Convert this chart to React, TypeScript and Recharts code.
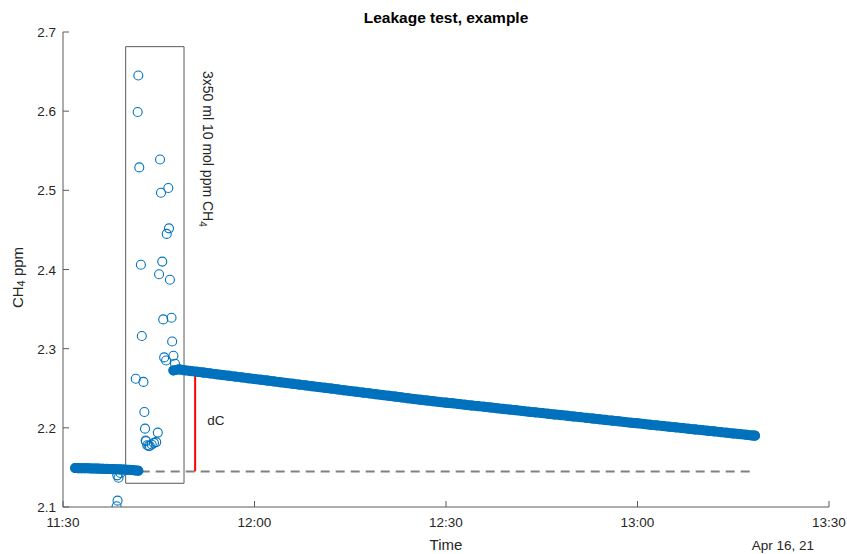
import { ScatterChart, Scatter, XAxis, YAxis, ReferenceArea, ReferenceLine, ReferenceDot } from "recharts"

// time in minutes after 11:30, CH4 in ppm
const baseTimes = [1.9, 2.4, 2.9, 3.4, 3.9, 4.4, 4.9, 5.4, 5.9, 6.4, 6.9, 7.4, 7.9, 8.4, 8.9, 9.4, 9.9, 10.4, 10.9, 11.4, 11.8]
const baseValues = [2.1492, 2.1491, 2.149, 2.149, 2.1489, 2.1487, 2.1486, 2.1485, 2.1484, 2.1482, 2.1481, 2.148, 2.1478, 2.1477, 2.1475, 2.1473, 2.1471, 2.1469, 2.1466, 2.1462, 2.1458]

const injectTimes = [8.4, 8.55, 8.5, 8.7, 9.0, 11.4, 11.7, 11.8, 11.95, 12.2, 12.35, 12.6, 12.75, 12.85, 12.95, 13.0, 13.2, 13.4, 13.6, 13.9, 14.25, 14.6, 14.85, 15.05, 15.2, 15.35, 15.55, 15.7, 15.85, 16.15, 16.25, 16.5, 16.6, 16.75, 17.0, 17.1, 17.3, 17.55]
const injectValues = [2.101, 2.108, 2.14, 2.137, 2.143, 2.262, 2.599, 2.645, 2.529, 2.406, 2.316, 2.258, 2.22, 2.199, 2.184, 2.183, 2.178, 2.177, 2.177, 2.179, 2.181, 2.182, 2.194, 2.394, 2.539, 2.497, 2.41, 2.337, 2.289, 2.285, 2.445, 2.503, 2.452, 2.387, 2.339, 2.309, 2.291, 2.281]

const decayTimes = [17.3, 18.2, 19, 20, 21, 22, 23, 24, 25, 26, 27, 28, 29, 30, 31, 32, 33, 34, 35, 36, 37, 38, 39, 40, 41, 42, 43, 44, 45, 46, 47, 48, 49, 50, 51, 52, 53, 54, 55, 56, 57, 58, 59, 60, 61, 62, 63, 64, 65, 66, 67, 68, 69, 70, 71, 72, 73, 74, 75, 76, 77, 78, 79, 80, 81, 82, 83, 84, 85, 86, 87, 88, 89, 90, 91, 92, 93, 94, 95, 96, 97, 98, 99, 100, 101, 102, 103, 104, 105, 106, 107, 108, 108.4]
const decayValues = [2.2725, 2.2738,
  2.2728, 2.2718, 2.2708, 2.2698, 2.2688, 2.2677, 2.2667, 2.2657, 2.2647, 2.2637, 2.2627, 2.2617, 2.2607, 2.2597, 2.2587, 2.2576, 2.2566, 2.2556, 2.2546,
  2.2536, 2.2526, 2.2516, 2.2506, 2.2496, 2.2486, 2.2475, 2.2465, 2.2455, 2.2445, 2.2435, 2.2425, 2.2415, 2.2405, 2.2395, 2.2385, 2.2374, 2.2364, 2.2354,
  2.2345, 2.2336, 2.2327, 2.2318, 2.231, 2.2301, 2.2292, 2.2283, 2.2274, 2.2266, 2.2257, 2.2248, 2.2239, 2.223, 2.2222, 2.2213, 2.2204, 2.2195, 2.2187,
  2.2178, 2.2169, 2.2161, 2.2152, 2.2143, 2.2135, 2.2126, 2.2117, 2.2109, 2.21, 2.2091, 2.2083, 2.2074, 2.2065, 2.2057, 2.2048, 2.2039, 2.2031, 2.2023,
  2.2014, 2.2006, 2.1997, 2.1989, 2.198, 2.1972, 2.1963, 2.1955, 2.1946, 2.1938, 2.1929, 2.1921, 2.1912, 2.1904, 2.1901]

const xTicks = [0, 30, 60, 90, 120]
const xTickLabels = ["11:30", "12:00", "12:30", "13:00", "13:30"]
const yTicks = [2.1, 2.2, 2.3, 2.4, 2.5, 2.6, 2.7]

// injection window box, background level and dC marker
const boxStart = 9.82
const boxEnd = 18.96
const boxLow = 2.13
const boxHigh = 2.6815
const baseLevel = 2.145
const dashEnd = 107.9
const dCTime = 20.7
const dCTop = 2.274
const noteTime = 22.64
const noteValue = 2.6507

const BLUE = "#0072BD"
const AXIS = "#5a5a5a"
const TEXT = "#262626"
const FONT = '"Liberation Sans", Arial, Helvetica, sans-serif'

const toPts = (ts: number[], vs: number[]) => ts.map((t, i) => ({ t, v: vs[i] }))
const basePts = toPts(baseTimes, baseValues)
const injectPts = toPts(injectTimes, injectValues)
const decayPts = toPts(decayTimes, decayValues)

const bandLine = { stroke: BLUE, strokeWidth: 10, strokeLinecap: "round", strokeLinejoin: "round" }

const Ring = (props: any) => (
  <circle cx={props.cx} cy={props.cy} r={4.5} fill="none" stroke={BLUE} strokeWidth={1.1} />
)

const XTick = (props: any) => {
  const { x, y, payload } = props
  const idx = xTicks.indexOf(payload.value)
  return (
    <g>
      <line x1={x} y1={y} x2={x} y2={y - 6} stroke={AXIS} />
      <text x={x} y={y + 20} textAnchor="middle" fontSize={13.5} fill={TEXT} fontFamily={FONT}>
        {idx >= 0 ? xTickLabels[idx] : payload.value}
      </text>
    </g>
  )
}

const YTick = (props: any) => {
  const { x, y, payload } = props
  return (
    <g>
      <line x1={x} y1={y} x2={x + 6} y2={y} stroke={AXIS} />
      <text x={x - 7} y={y + 5} textAnchor="end" fontSize={13.5} fill={TEXT} fontFamily={FONT}>
        {Number(payload.value).toFixed(1)}
      </text>
    </g>
  )
}

const YLabel = (props: any) => {
  const { x, y, height } = props.viewBox
  const cx = x + 17
  const cy = y + height / 2 + 8
  return (
    <text x={cx} y={cy} transform={`rotate(-90 ${cx} ${cy})`} textAnchor="middle" dominantBaseline="central"
      fontSize={15} fill={TEXT} fontFamily={FONT}>
      CH<tspan fontSize={11} dy={4}>4</tspan><tspan dy={-4}> ppm</tspan>
    </text>
  )
}

const XLabel = (props: any) => {
  const { x, y, width } = props.viewBox
  return (
    <g fontFamily={FONT} fill={TEXT}>
      <text x={x + width / 2} y={y + 43} textAnchor="middle" fontSize={15}>Time</text>
      <text x={x + width - 15} y={y + 43} textAnchor="end" fontSize={13.5}>Apr 16, 21</text>
    </g>
  )
}

const NoteLabel = (props: any) => {
  const { x, y } = props.viewBox
  return (
    <text x={x} y={y} transform={`rotate(90 ${x} ${y})`} textAnchor="start" dominantBaseline="central"
      fontSize={14} fill={TEXT} fontFamily={FONT}>
      3x50 ml 10 mol ppm CH<tspan fontSize={10} dy={5}>4</tspan>
    </text>
  )
}

export default function App() {
  return (
    <div style={{ position: "absolute", left: 0, top: 0, width: 847, height: 554, background: "#fff", fontFamily: FONT }}>
      <div style={{ position: "absolute", left: 63, width: 766, top: 8, lineHeight: "20px", textAlign: "center", fontWeight: "bold", fontSize: 15.5, color: "#000" }}>
        Leakage test, example
      </div>
      <ScatterChart width={847} height={554} margin={{ top: 32, right: 18, bottom: 0, left: 0 }}>
        <XAxis
          dataKey="t"
          type="number"
          domain={[0, 120]}
          ticks={xTicks}
          tick={<XTick />}
          tickSize={0}
          tickMargin={0}
          height={47}
          axisLine={{ stroke: AXIS }}
          label={<XLabel />}
          allowDataOverflow
        />
        <YAxis
          dataKey="v"
          type="number"
          domain={[2.1, 2.7]}
          ticks={yTicks}
          tick={<YTick />}
          tickSize={0}
          tickMargin={0}
          width={63}
          axisLine={{ stroke: AXIS }}
          label={<YLabel />}
          allowDataOverflow
        />
        <ReferenceLine
          segment={[{ x: boxStart, y: baseLevel }, { x: dashEnd, y: baseLevel }]}
          stroke="#808080"
          strokeWidth={2}
          strokeDasharray="9 6"
        />
        <Scatter data={basePts} shape={<Ring />} line={bandLine} isAnimationActive={false} />
        <Scatter data={injectPts} shape={<Ring />} isAnimationActive={false} />
        <Scatter data={decayPts} shape={<Ring />} line={bandLine} isAnimationActive={false} />
        <ReferenceArea x1={boxStart} x2={boxEnd} y1={boxLow} y2={boxHigh} fill="none" fillOpacity={0} stroke={AXIS} strokeWidth={1} />
        <ReferenceLine
          segment={[{ x: dCTime, y: baseLevel }, { x: dCTime, y: dCTop }]}
          stroke="#ff0000"
          strokeWidth={2}
          label={{ value: "dC", position: "right", offset: 12, fontSize: 13.5, fill: TEXT, fontFamily: FONT }}
        />
        <ReferenceDot x={noteTime} y={noteValue} r={0} fill="none" stroke="none" label={NoteLabel} />
      </ScatterChart>
    </div>
  )
}
